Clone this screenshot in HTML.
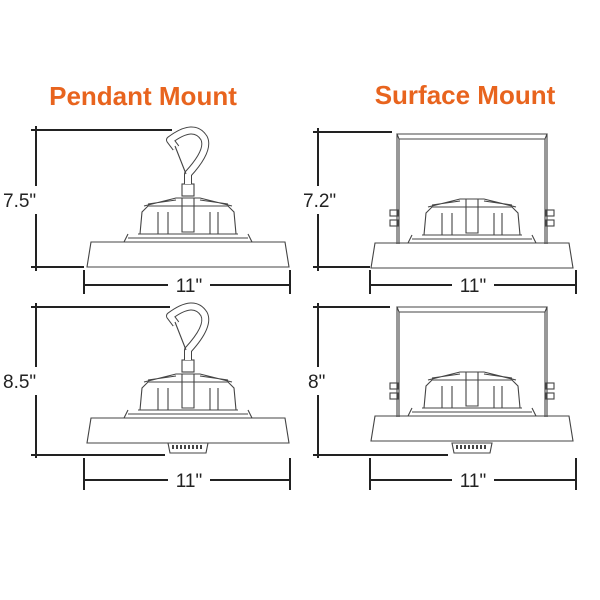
<!DOCTYPE html>
<html><head><style>
html,body{margin:0;padding:0;background:#fff;}
svg{display:block;}
.t{font-family:"Liberation Sans",Arial,sans-serif;font-weight:bold;fill:#e8641e;font-size:26px;}
.d{font-family:"Liberation Sans",Arial,sans-serif;fill:#222;font-size:19px;}
.k{stroke:#222;stroke-width:2;fill:none;}
.g{stroke:#444;stroke-width:1.1;fill:none;}
</style></head><body>
<svg width="600" height="600" viewBox="0 0 600 600">
<defs>
<g id="housing">
 <path class="g" d="M-48,-8 L-46,-30 L-40,-36 L40,-36 L46,-30 L48,-8 Z"/>
 <path class="g" d="M-44,-36 L-12,-44 L12,-44 L44,-36 M-40,-38 L-12,-42 M40,-38 L12,-42"/>
 <path class="g" d="M-6,-44 L-6,-10 L6,-10 L6,-44"/>
 <path class="g" d="M-50,-8 L50,-8 M-64,0 L-60,-8 M64,0 L60,-8 M-60,-4 L60,-4"/>
 <path class="g" d="M-30,-30 L-30,-8 M30,-30 L30,-8 M22,-30 L22,-8 M-20,-30 L-20,-8"/>
</g>
<g id="base">
 <path class="g" d="M-97,0 L97,0 L101,25 L-101,25 Z"/>
</g>
<g id="hook">
 <rect class="g" x="-6" y="-14" width="12" height="12"/>
 <path d="M0,-14 L0,-24 Q22,-48 16,-60 Q6,-76 -18,-58 L-12,-50" stroke="#444" stroke-width="8" fill="none" stroke-linejoin="round"/>
 <path d="M0,-14 L0,-24 Q22,-48 16,-60 Q6,-76 -18,-58 L-12,-50" stroke="#fff" stroke-width="6" fill="none" stroke-linejoin="round"/>
 <path class="g" d="M-13,-52 L-2,-24"/>
</g>
<g id="bracket">
 <path class="g" d="M-75,0 L75,0 L73,5 L-73,5 Z"/>
 <path class="g" d="M-75,0 L-75,110 M-73,5 L-73,110 M75,0 L75,110 M73,5 L73,110"/>
 <rect class="g" x="-82" y="76" width="8" height="6"/><rect class="g" x="-82" y="86" width="8" height="6"/>
 <rect class="g" x="74" y="76" width="8" height="6"/><rect class="g" x="74" y="86" width="8" height="6"/>
</g>
<g id="sensor">
 <path class="g" d="M-20,0 L20,0 L18,10 L-18,10 Z"/>
 <path d="M-16,4 L16,4" stroke="#444" stroke-width="4" stroke-dasharray="2 2"/>
</g>
</defs>

<text class="t" x="143" y="105" text-anchor="middle">Pendant Mount</text>
<text class="t" x="465" y="104" text-anchor="middle">Surface Mount</text>

<!-- Panel 1 -->
<path class="k" d="M36,126 L36,271 M31,130 L172,130 M31,267 L84,267"/>
<use href="#base" x="188" y="242"/>
<use href="#housing" x="188" y="242"/>
<use href="#hook" x="188" y="198"/>
<rect x="0" y="186" width="56" height="28" fill="#fff"/>
<text class="d" x="3" y="207">7.5"</text>
<path class="k" d="M84,270 L84,294 M290,270 L290,294 M84,285 L168,285 M210,285 L290,285"/>
<text class="d" x="189" y="292" text-anchor="middle">11"</text>

<!-- Panel 2 -->
<path class="k" d="M36,303 L36,458 M31,307 L170,307 M31,455 L165,455"/>
<use href="#base" x="188" y="418"/>
<use href="#housing" x="188" y="418"/>
<use href="#hook" x="188" y="374"/>
<use href="#sensor" x="188" y="443"/>
<rect x="0" y="367" width="56" height="28" fill="#fff"/>
<text class="d" x="3" y="388">8.5"</text>
<path class="k" d="M84,458 L84,490 M290,458 L290,490 M84,480 L168,480 M210,480 L290,480"/>
<text class="d" x="189" y="487" text-anchor="middle">11"</text>

<!-- Panel 3 -->
<path class="k" d="M318,128 L318,271 M313,132 L392,132 M313,267 L370,267"/>
<use href="#bracket" x="472" y="134"/>
<use href="#base" x="472" y="243"/>
<use href="#housing" x="472" y="243"/>
<rect x="300" y="186" width="44" height="28" fill="#fff"/>
<text class="d" x="303" y="207">7.2"</text>
<path class="k" d="M370,270 L370,294 M576,270 L576,294 M370,285 L452,285 M494,285 L576,285"/>
<text class="d" x="473" y="292" text-anchor="middle">11"</text>

<!-- Panel 4 -->
<path class="k" d="M318,303 L318,458 M313,307 L390,307 M313,455 L448,455"/>
<use href="#bracket" x="472" y="307"/>
<use href="#base" x="472" y="416"/>
<use href="#housing" x="472" y="416"/>
<use href="#sensor" x="472" y="443"/>
<rect x="306" y="367" width="30" height="28" fill="#fff"/>
<text class="d" x="308" y="388">8"</text>
<path class="k" d="M370,458 L370,490 M576,458 L576,490 M370,480 L452,480 M494,480 L576,480"/>
<text class="d" x="473" y="487" text-anchor="middle">11"</text>
</svg>
</body></html>
